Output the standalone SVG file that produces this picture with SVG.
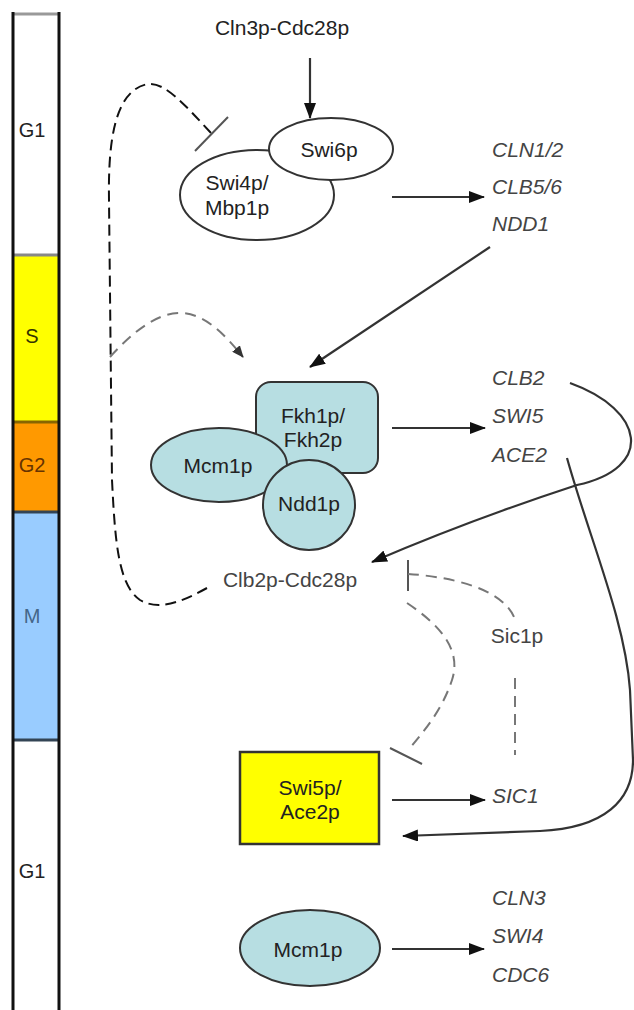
<svg xmlns="http://www.w3.org/2000/svg" width="634" height="1010" viewBox="0 0 634 1010">
<style>
text{font-family:"Liberation Sans",Arial,sans-serif;font-size:21px;fill:#222}
.g{font-style:italic;fill:#444}
.c{text-anchor:middle}
.tf{fill:#b7dee2;stroke:#333;stroke-width:2}
.wf{fill:#fff;stroke:#333;stroke-width:2}
.ln{fill:none;stroke:#333;stroke-width:2.2}
.dk{fill:none;stroke:#111;stroke-width:2;stroke-dasharray:11 6}
.dg{fill:none;stroke:#777;stroke-width:2;stroke-dasharray:11 7}
.tb{stroke:#555;stroke-width:2}
</style>
<defs>
<marker id="ah" markerWidth="16" markerHeight="12" refX="15" refY="6" orient="auto" markerUnits="userSpaceOnUse"><path d="M0,0 L16,6 L0,12 Z" fill="#111"/></marker>
<marker id="ahs" markerWidth="12" markerHeight="10" refX="11" refY="5" orient="auto" markerUnits="userSpaceOnUse"><path d="M0,0 L12,5 L0,10 Z" fill="#333"/></marker>
</defs>
<g id="phases">
<rect x="13" y="14" width="46" height="241" fill="#fff"/>
<rect x="13" y="255" width="46" height="167" fill="#ffff00"/>
<rect x="13" y="422" width="46" height="90" fill="#ff9900"/>
<rect x="13" y="512" width="46" height="228" fill="#99ccff"/>
<rect x="13" y="740" width="46" height="275" fill="#fff"/>
<line x1="13" y1="14" x2="59" y2="14" stroke="#999" stroke-width="3"/>
<line x1="13" y1="255" x2="59" y2="255" stroke="#888" stroke-width="3"/>
<line x1="13" y1="422" x2="59" y2="422" stroke="#886600" stroke-width="3"/>
<line x1="13" y1="512" x2="59" y2="512" stroke="#334455" stroke-width="3"/>
<line x1="13" y1="740" x2="59" y2="740" stroke="#334455" stroke-width="3"/>
<line x1="13" y1="12" x2="13" y2="1010" stroke="#111" stroke-width="3"/>
<line x1="59" y1="12" x2="59" y2="1010" stroke="#111" stroke-width="3"/>
<text x="32" y="137" class="c" style="font-size:20px">G1</text>
<text x="32" y="343" class="c" style="fill:#333300;font-size:20px">S</text>
<text x="32" y="472" class="c" style="fill:#663300;font-size:20px">G2</text>
<text x="32" y="623" class="c" style="fill:#446688;font-size:20px">M</text>
<text x="32" y="878" class="c" style="font-size:20px">G1</text>
</g>
<g id="connectors">
<path class="ln" d="M310,58 L310,118" marker-end="url(#ah)"/>
<path class="ln" d="M392,197 L484,197" marker-end="url(#ah)"/>
<path class="ln" d="M490,247 L310,367" marker-end="url(#ah)"/>
<path class="ln" d="M392,428 L485,428" marker-end="url(#ah)"/>
<path class="ln" d="M570,383 C645,410 655,468 577,485 Q470,520 372,562" marker-end="url(#ah)"/>
<path class="ln" d="M567,458 C590,540 625,620 630,690 L633,760 C633,800 605,828 540,831 L403,836" marker-end="url(#ah)"/>
<path class="ln" d="M392,800 L485,800" marker-end="url(#ah)"/>
<path class="ln" d="M392,949 L484,949" marker-end="url(#ah)"/>
<path class="dk" d="M207,588 C185,600 160,612 140,600 C118,585 115,540 112,480 L109,200 C108,140 115,90 148,84 C165,82 185,105 211,133"/>
<line class="tb" x1="195" y1="151" x2="228" y2="117"/>
<path class="dg" d="M110,357 C130,335 155,313 180,313 C205,313 225,335 243,357" marker-end="url(#ahs)"/>
<line class="tb" x1="408" y1="560" x2="408" y2="591"/>
<path class="dg" d="M408,574 C440,576 500,585 514,617"/>
<path class="dg" d="M407,603 C440,625 462,650 452,680 C442,710 425,730 410,748"/>
<line class="tb" x1="390" y1="748" x2="422" y2="764"/>
<path class="dg" d="M515,678 L515,755"/>
</g>
<g id="cln3"><text x="282" y="35" class="c">Cln3p-Cdc28p</text></g>
<g id="swi4"><ellipse cx="257" cy="195" rx="77" ry="45" class="wf"/><text x="237" y="190" class="c">Swi4p/</text><text x="237" y="215" class="c">Mbp1p</text></g>
<g id="swi6"><ellipse cx="331" cy="149" rx="62" ry="31" class="wf"/><text x="329" y="157" class="c">Swi6p</text></g>
<g id="genes1"><text x="492" y="157" class="g">CLN1/2</text><text x="492" y="194" class="g">CLB5/6</text><text x="492" y="231" class="g">NDD1</text></g>
<g id="fkh"><rect x="256" y="382" width="122" height="91" rx="15" class="tf"/><text x="313" y="423" class="c">Fkh1p/</text><text x="313" y="447" class="c">Fkh2p</text></g>
<g id="mcm1"><ellipse cx="219" cy="465" rx="68" ry="37" class="tf"/><text x="218" y="473" class="c">Mcm1p</text></g>
<g id="ndd1"><ellipse cx="309" cy="505" rx="46" ry="45" class="tf"/><text x="309" y="511" class="c">Ndd1p</text></g>
<g id="genes2"><text x="492" y="385" class="g">CLB2</text><text x="492" y="423" class="g">SWI5</text><text x="492" y="462" class="g">ACE2</text></g>
<g id="clb2"><text x="290" y="587" class="c" style="fill:#444">Clb2p-Cdc28p</text></g>
<g id="sic1p"><text x="517" y="643" class="c" style="fill:#444">Sic1p</text></g>
<g id="swi5"><rect x="240" y="752" width="139" height="92" fill="#ffff00" stroke="#333" stroke-width="2.5"/><text x="310" y="795" class="c">Swi5p/</text><text x="310" y="819" class="c">Ace2p</text></g>
<g id="sic1"><text x="492" y="803" class="g">SIC1</text></g>
<g id="mcm1b"><ellipse cx="310" cy="948" rx="70" ry="38" class="tf"/><text x="308" y="957" class="c">Mcm1p</text></g>
<g id="genes3"><text x="492" y="905" class="g">CLN3</text><text x="492" y="943" class="g">SWI4</text><text x="492" y="982" class="g">CDC6</text></g>
</svg>
